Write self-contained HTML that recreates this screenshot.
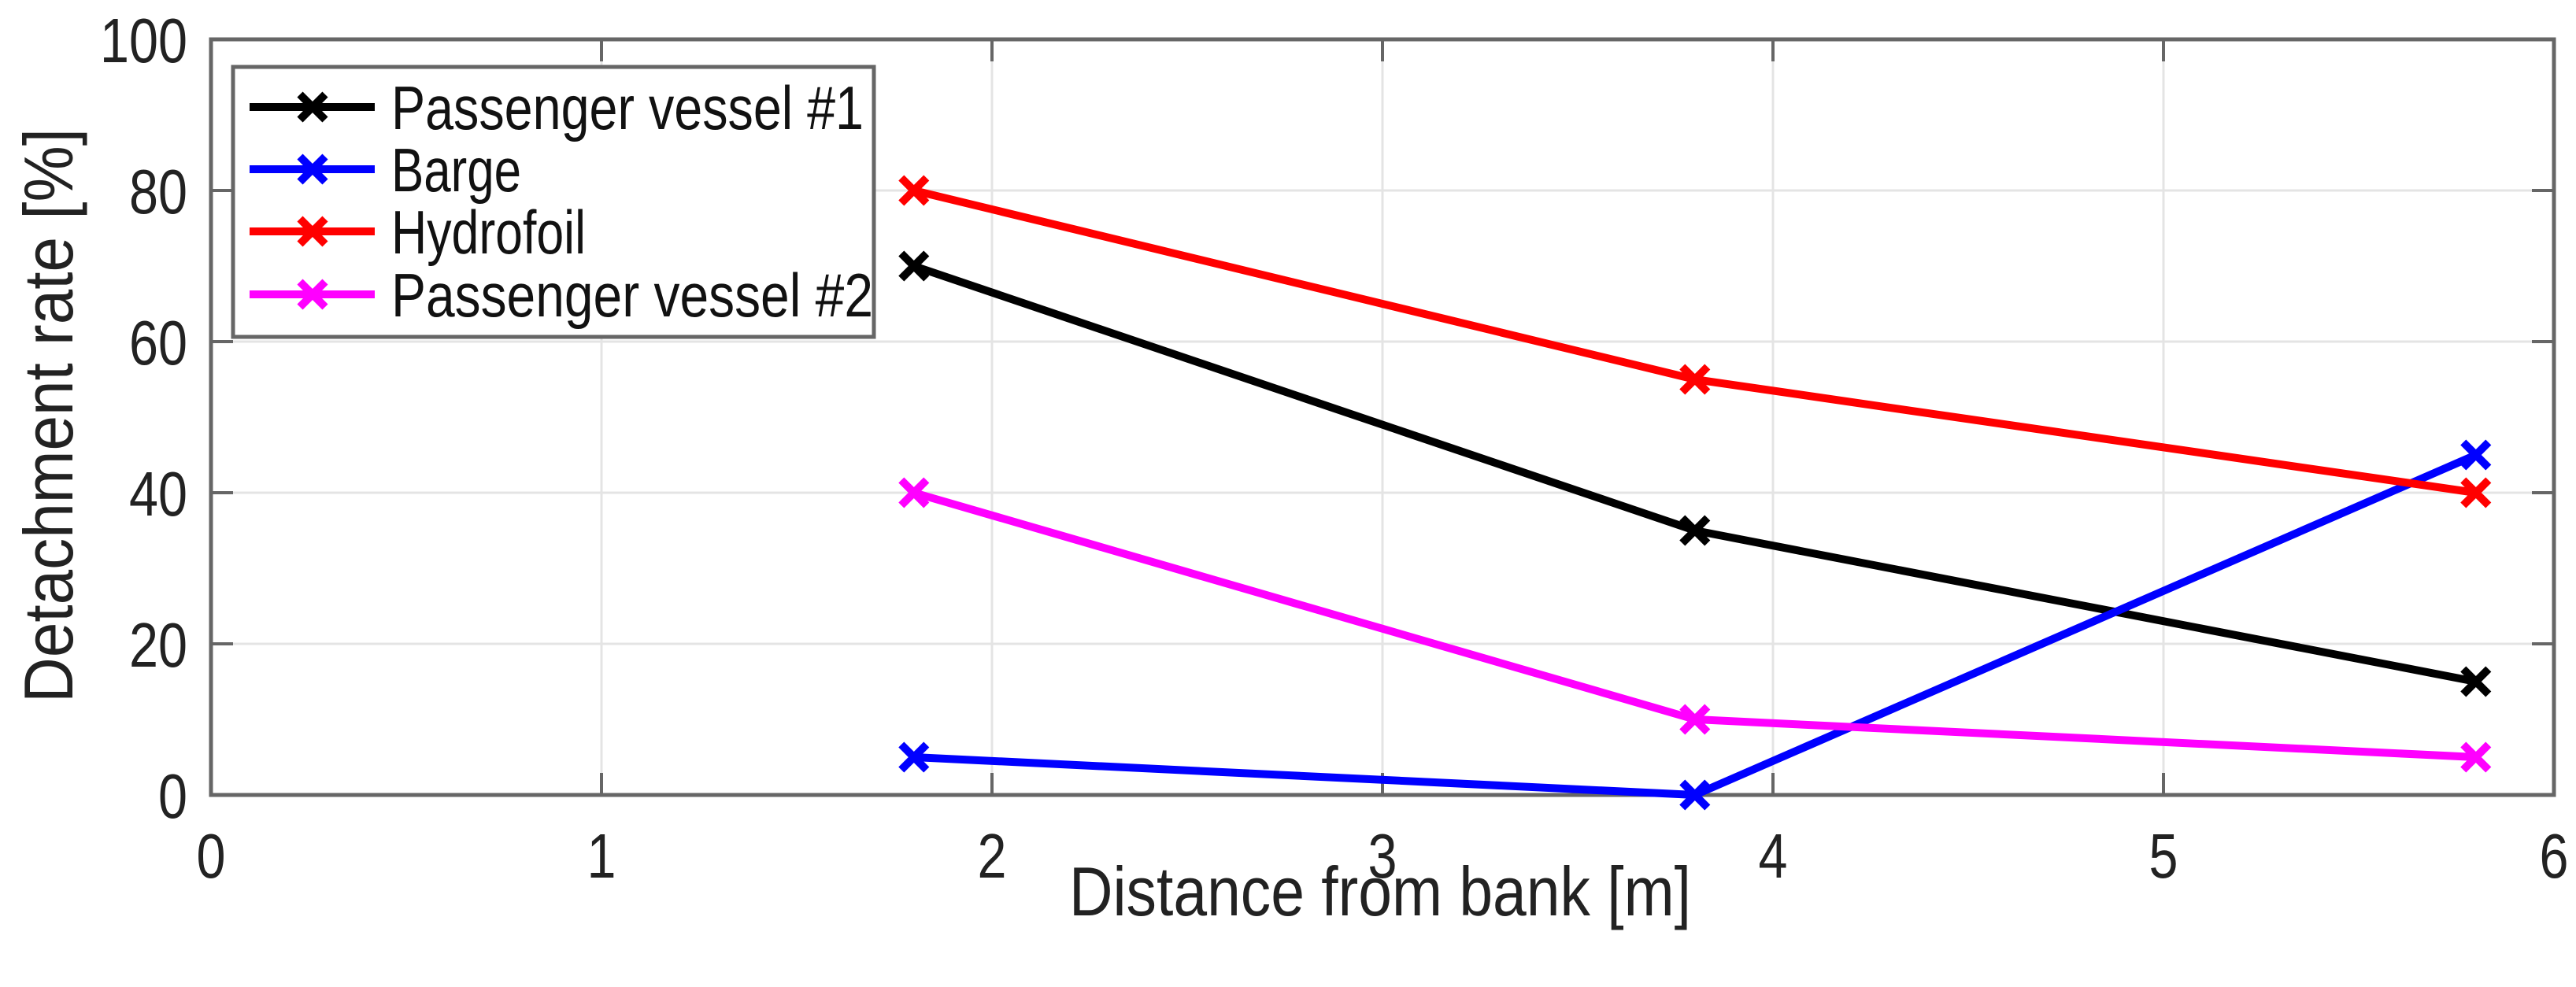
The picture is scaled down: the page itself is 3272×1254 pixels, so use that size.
<!DOCTYPE html>
<html><head><meta charset="utf-8"><style>
html,body{margin:0;padding:0;background:#fff;}
svg{display:block;font-family:"Liberation Sans",Arial,sans-serif;}
</style></head><body>
<svg id="chart" width="3272" height="1254" viewBox="0 0 3272 1254">
<g id="grid"></g>
<g id="axes"></g>
<g id="series"></g>
<g id="legend"></g>
<text x="1753" y="1163" font-size="88" textLength="790" lengthAdjust="spacingAndGlyphs" text-anchor="middle" fill="#222">Distance from bank [m]</text>
<text transform="translate(92,528) rotate(-90)" font-size="88" textLength="730" lengthAdjust="spacingAndGlyphs" text-anchor="middle" fill="#222">Detachment rate [%]</text>
</svg>
<script>
const xTicks = [0,1,2,3,4,5,6];
const yTicks = [0,20,40,60,80,100];
const distances = [1.8,3.8,5.8];
const seriesNames = ["Passenger vessel #1","Barge","Hydrofoil","Passenger vessel #2"];
const passenger1 = [70,35,15];
const barge = [5,0,45];
const hydrofoil = [80,55,40];
const passenger2 = [40,10,5];
const colors = ["#000000","#0000ff","#ff0000","#ff00ff"];
const allSeries = [passenger1, barge, hydrofoil, passenger2];

const L=268,R=3244,T=50,B=1010;
const X0=0,X1=6,Y0=0,Y1=100;
function sx(v){return L+(v-X0)/(X1-X0)*(R-L);}
function sy(v){return B-(v-Y0)/(Y1-Y0)*(B-T);}
const NS="http://www.w3.org/2000/svg";
function mk(tag,attrs,parent){const e=document.createElementNS(NS,tag);for(const k in attrs)e.setAttribute(k,attrs[k]);parent.appendChild(e);return e;}
const grid=document.getElementById('grid'),axes=document.getElementById('axes'),ser=document.getElementById('series'),leg=document.getElementById('legend');

xTicks.forEach(t=>{
  const g=mk('line',{x1:sx(t),x2:sx(t),y1:T,y2:B,stroke:'#e4e4e4','stroke-width':3},grid);
  
  
  const tk=mk('line',{x1:sx(t),x2:sx(t),y1:B,y2:B-28,stroke:'#666','stroke-width':4},axes);
  
  
  const tk2=mk('line',{x1:sx(t),x2:sx(t),y1:T,y2:T+28,stroke:'#666','stroke-width':4},axes);
  
  
  const s=String(t);
  const lb=mk('text',{x:sx(t),y:1115,'font-size':80,'text-anchor':'middle',fill:'#222',textLength:s.length*37,lengthAdjust:'spacingAndGlyphs'},axes);
  lb.textContent=s;
  
  
});
yTicks.forEach(t=>{
  const g=mk('line',{x1:L,x2:R,y1:sy(t),y2:sy(t),stroke:'#e4e4e4','stroke-width':3},grid);
  
  
  const tk=mk('line',{x1:L,x2:L+28,y1:sy(t),y2:sy(t),stroke:'#666','stroke-width':4},axes);
  
  
  const tk2=mk('line',{x1:R,x2:R-28,y1:sy(t),y2:sy(t),stroke:'#666','stroke-width':4},axes);
  
  
  const s=String(t);
  const lb=mk('text',{x:238,y:sy(t)+29,'font-size':80,'text-anchor':'end',fill:'#222',textLength:s.length*37,lengthAdjust:'spacingAndGlyphs'},axes);
  lb.textContent=s;
  
  
});
const box=mk('rect',{x:L,y:T,width:R-L,height:B-T,fill:'none',stroke:'#666','stroke-width':5},axes);



function cross(cx,cy,col,parent){
  const s=16;
  const p=mk('path',{d:`M${cx-s},${cy-s}L${cx+s},${cy+s}M${cx-s},${cy+s}L${cx+s},${cy-s}`,stroke:col,'stroke-width':10,fill:'none'},parent);
  
  
}
allSeries.forEach((vals,i)=>{
  const pts=vals.map((v,j)=>sx(distances[j])+','+sy(v)).join(' ');
  const pl=mk('polyline',{points:pts,fill:'none',stroke:colors[i],'stroke-width':10,'stroke-linejoin':'round'},ser);
  
  
  vals.forEach((v,j)=>cross(sx(distances[j]),sy(v),colors[i],ser));
});

const lb=mk('rect',{x:296,y:85,width:814,height:343,fill:'#fff',stroke:'#666','stroke-width':5},leg);


const ly=[136,215,294,374];
const lw=[600,165,247,612];
seriesNames.forEach((n,i)=>{
  const ln=mk('line',{x1:317,x2:476,y1:ly[i],y2:ly[i],stroke:colors[i],'stroke-width':10},leg);
  
  
  cross(397,ly[i],colors[i],leg);
  const t=mk('text',{x:497,y:ly[i]+28,'font-size':78,fill:'#111',textLength:lw[i],lengthAdjust:'spacingAndGlyphs'},leg);
  t.textContent=n;
  
  
});
</script>
</body></html>
